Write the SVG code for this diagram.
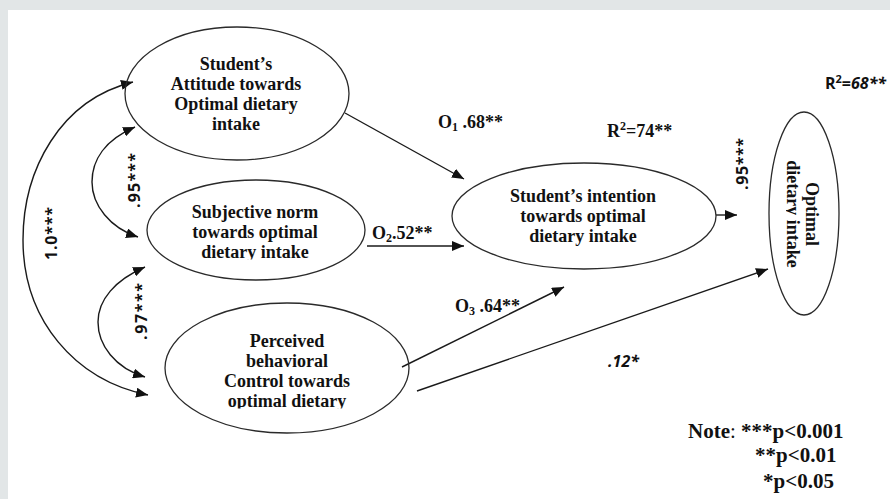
<svg xmlns="http://www.w3.org/2000/svg" width="890" height="499" viewBox="0 0 890 499">
<defs>
<style>
.node ellipse{fill:none;stroke:#2a2a2a;stroke-width:1.3}
.nt{font-family:"Liberation Serif","Times New Roman",serif;font-weight:bold;font-size:18px;fill:#111;text-anchor:middle}
.lbl{font-family:"Liberation Serif","Times New Roman",serif;font-weight:bold;font-size:18px;fill:#111}
.sl{font-family:"Open Sans","Liberation Sans",sans-serif;font-weight:bold;font-size:16px;fill:#111}
.note{font-family:"Liberation Serif","Times New Roman",serif;font-weight:bold;font-size:21px;fill:#111}
.conn path{fill:none;stroke:#1a1a1a;stroke-width:1.4}
</style>
<marker id="ah" viewBox="0 0 12 10" refX="12" refY="5" markerWidth="12" markerHeight="10" markerUnits="userSpaceOnUse" orient="auto-start-reverse"><path d="M0,0 L12,5 L0,10 z" fill="#111"/></marker>
<clipPath id="clipSub"><rect x="140" y="170" width="240" height="89.5"/></clipPath>
<clipPath id="clipPer"><rect x="160" y="300" width="260" height="108.5"/></clipPath>
<clipPath id="clipOpt"><rect x="786" y="100" width="60" height="230"/></clipPath>
</defs>
<rect x="0" y="0" width="890" height="499" fill="#e2e6e7"/>
<rect x="8" y="10" width="882" height="489" fill="#ffffff"/>

<g id="connectors" class="conn">
<path d="M133,82 C60,100 23,170 23,240 C23,320 75,380 148,395" marker-start="url(#ah)" marker-end="url(#ah)"/>
<path d="M135,127 C105,140 92,160 92,182 C92,205 110,228 138,237" marker-start="url(#ah)" marker-end="url(#ah)"/>
<path d="M145,267 C115,280 98,300 98,322 C98,345 115,368 145,377" marker-start="url(#ah)" marker-end="url(#ah)"/>
<path d="M345,113 L464,179" marker-end="url(#ah)"/>
<path d="M367,246 L464,246" marker-end="url(#ah)"/>
<path d="M402,367 L564,287" marker-end="url(#ah)"/>
<path d="M417,391 L768,269" marker-end="url(#ah)"/>
<path d="M716,215 L737,215" marker-end="url(#ah)"/>
</g>

<g id="attitude" class="node">
<ellipse cx="237" cy="93.5" rx="112" ry="66.5"/>
<text class="nt" x="236" y="70">Student’s</text>
<text class="nt" x="236" y="90">Attitude towards</text>
<text class="nt" x="236" y="110">Optimal dietary</text>
<text class="nt" x="236" y="130">intake</text>
</g>

<g id="subjective" class="node">
<ellipse cx="256" cy="230" rx="109" ry="50"/>
<g clip-path="url(#clipSub)">
<text class="nt" x="255" y="218">Subjective norm</text>
<text class="nt" x="255" y="238">towards optimal</text>
<text class="nt" x="255" y="258">dietary intake</text>
</g>
</g>

<g id="perceived" class="node">
<ellipse cx="287" cy="368" rx="122" ry="65"/>
<g clip-path="url(#clipPer)">
<text class="nt" x="287" y="347">Perceived</text>
<text class="nt" x="287" y="367">behavioral</text>
<text class="nt" x="287" y="387">Control towards</text>
<text class="nt" x="287" y="407">optimal dietary</text>
</g>
</g>

<g id="intention" class="node">
<ellipse cx="584" cy="216" rx="132" ry="53"/>
<text class="nt" x="583" y="202">Student’s intention</text>
<text class="nt" x="583" y="222">towards optimal</text>
<text class="nt" x="583" y="242">dietary intake</text>
</g>

<g id="optimal" class="node">
<ellipse cx="804" cy="213.5" rx="35" ry="101.5"/>
<g clip-path="url(#clipOpt)">
<g transform="translate(804,214) rotate(90)">
<text class="nt" x="0" y="-2">Optimal</text>
<text class="nt" x="0" y="17">dietary intake</text>
</g>
</g>
</g>

<g id="labels">
<text class="lbl" x="438" y="128">O<tspan font-size="12" dy="3">1</tspan><tspan dy="-3"> .68**</tspan></text>
<text class="lbl" x="372" y="239">O<tspan font-size="12" dy="3">2</tspan><tspan dy="-3">.52**</tspan></text>
<text class="lbl" x="455" y="312">O<tspan font-size="12" dy="3">3</tspan><tspan dy="-3"> .64**</tspan></text>
<text class="lbl" x="607" y="137">R<tspan font-size="12" dy="-7">2</tspan><tspan dy="7">=74**</tspan></text>
<text class="sl" x="825" y="89">R<tspan font-size="11" dy="-6">2</tspan><tspan dy="6">=</tspan><tspan font-style="italic">68**</tspan></text>
<text class="sl" x="608" y="367" font-style="italic">.12*</text>
<text class="sl" transform="translate(57,233.5) rotate(-90)" text-anchor="middle" textLength="53" lengthAdjust="spacing">1.0***</text>
<text class="sl" transform="translate(140,180.5) rotate(-90)" text-anchor="middle" textLength="55" lengthAdjust="spacing">.95***</text>
<text class="sl" transform="translate(147,311.5) rotate(-90)" text-anchor="middle" textLength="57" lengthAdjust="spacing">.97***</text>
<text class="sl" transform="translate(748,164) rotate(-90)" text-anchor="middle" textLength="52" lengthAdjust="spacing">.95***</text>
</g>

<g id="note">
<text class="note" x="688" y="438">Note<tspan font-weight="normal">: </tspan>***p&lt;0.001</text>
<text class="note" x="755" y="462">**p&lt;0.01</text>
<text class="note" x="763" y="488">*p&lt;0.05</text>
</g>
</svg>
